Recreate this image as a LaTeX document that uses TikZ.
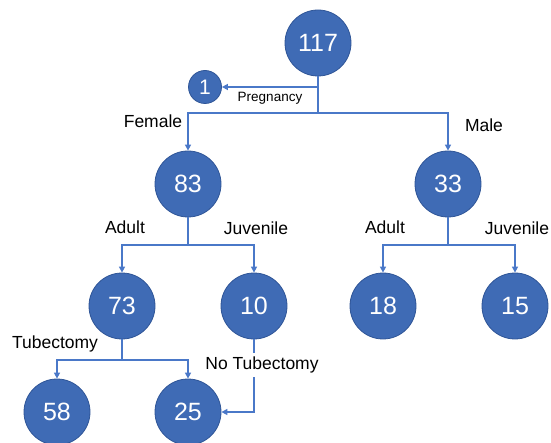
\documentclass[tikz,border=0pt]{standalone}
\usepackage{fontspec}
\setmainfont{Liberation Sans}
\usetikzlibrary{arrows.meta}
\definecolor{cfill}{HTML}{3F6BB5}
\definecolor{cedge}{HTML}{2F5597}
\definecolor{cline}{HTML}{4A78C8}
\tikzset{
  bubble/.style={circle, fill=cfill, draw=cedge, line width=0.8pt, minimum size=66pt, inner sep=0pt, text=white, font=\fontsize{25}{25}\selectfont},
  smallbubble/.style={bubble, minimum size=33pt, font=\fontsize{21}{21}\selectfont},
  conn/.style={draw=cline, line width=1.5pt},
  arr/.style={conn, -{Triangle[length=6pt,width=6pt]}},
  lbl/.style={font=\fontsize{17.5}{17.5}\selectfont, text=black, inner sep=1pt},
}
\begin{document}
\begin{tikzpicture}[x=1pt,y=-1pt]
\useasboundingbox (0,0) rectangle (551,443);
% nodes
\node[bubble] (n117) at (318,43) {117};
\node[smallbubble] (n1) at (205,87) {1};
\node[bubble] (n83) at (188,184) {83};
\node[bubble] (n33) at (448,184) {33};
\node[bubble] (n73) at (122,306) {73};
\node[bubble] (n10) at (254,306) {10};
\node[bubble] (n18) at (383,306) {18};
\node[bubble] (n15) at (515,306) {15};
\node[bubble] (n58) at (57,412) {58};
\node[bubble] (n25) at (188,412) {25};
% coordinates
\coordinate (p1) at (318,87);
\coordinate (b1) at (318,113);
\coordinate (b2) at (188,245);
\coordinate (b3) at (448,245);
\coordinate (b4) at (122,360);
% connectors
\draw[arr] (p1) -- (n1);
\draw[conn] (n117) -- (b1);
\draw[arr] (b1) -| (n83);
\draw[arr] (b1) -| (n33);
\draw[conn] (n83) -- (b2);
\draw[arr] (b2) -| (n73);
\draw[arr] (b2) -| (n10);
\draw[conn] (n33) -- (b3);
\draw[arr] (b3) -| (n18);
\draw[arr] (b3) -| (n15);
\draw[conn] (n73) -- (b4);
\draw[arr] (b4) -| (n58);
\draw[arr] (b4) -| (n25);
\draw[arr] (n10) |- (n25);
% labels
\node[lbl, font=\fontsize{13.5}{13.5}\selectfont] (lp) at (270,98) {Pregnancy};
\node[lbl] (lf) at (153,121) {Female};
\node[lbl] (lm) at (484,125) {Male};
\node[lbl] (la1) at (125,227) {Adult};
\node[lbl] (lj1) at (256,228) {Juvenile};
\node[lbl] (la2) at (385,227) {Adult};
\node[lbl] (lj2) at (517,228) {Juvenile};
\node[lbl] (lt) at (55,344) {Tubectomy};
\node[lbl, fill=white, inner sep=4pt] (lnt) at (262,365) {No Tubectomy};
\end{tikzpicture}
\end{document}
